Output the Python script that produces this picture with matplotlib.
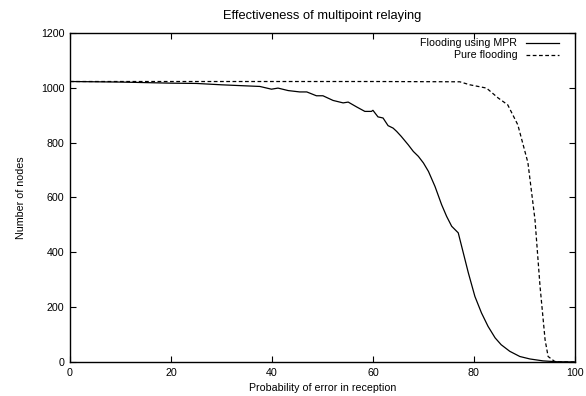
import matplotlib
matplotlib.use('Agg')
import matplotlib.pyplot as plt

# data
mpr_x = [0, 5, 10, 15, 20, 25, 30, 35, 37.6, 39.9, 41.2, 43.2, 45.5, 46.9, 48.8, 50.1, 52.1,
         54.1, 55.1, 56.8, 58.4, 59.7, 60, 61, 62, 63, 64, 64.7, 65.6, 67, 68, 69, 70, 71,
         72.3, 73.6, 74.6, 75.6, 76.9, 77.9, 78.9, 80.2, 81.5, 82.8, 84.2, 85.4, 87.1, 89.1,
         91.1, 93.7, 96.3, 100]
mpr_y = [1023, 1022, 1021, 1019, 1017, 1016, 1011, 1007, 1005, 995, 999, 990, 985, 985, 971,
         971, 954, 945, 948, 930, 914, 914, 918, 894, 890, 862, 853, 841, 823, 792, 768, 750,
         726, 695, 640, 574, 531, 495, 471, 398, 325, 239, 179, 130, 88, 63, 39, 20, 11, 4, 1, 0]

pure_x = [0, 20, 40, 60, 77.2, 79.2, 82.5, 84.8, 86.7, 88.7, 90.7, 92.1, 93.1, 94.1, 94.7,
          96, 97, 100]
pure_y = [1023, 1023, 1023, 1023, 1022, 1011, 999, 963, 938, 865, 727, 519, 276, 81, 20,
          2, 0, 0]

plt.rcParams['font.family'] = ['Liberation Sans', 'DejaVu Sans']
plt.rcParams['font.size'] = 7.7

fig = plt.figure(figsize=(5.86, 3.96), dpi=100)
ax = fig.add_axes([0.1195, 0.0859, 0.8615, 0.8308])

ax.plot(mpr_x, mpr_y, color='black', lw=0.9, label='Flooding using MPR')
ax.plot(pure_x, pure_y, color='black', lw=0.9, linestyle=(0, (3, 2)), label='Pure flooding')

ax.set_xlim(0, 100)
ax.set_ylim(0, 1200)
ax.set_xticks([0, 20, 40, 60, 80, 100])
ax.set_yticks([0, 200, 400, 600, 800, 1000, 1200])
ax.tick_params(direction='in', top=True, right=True, length=4, width=0.8, pad=4)
for s in ax.spines.values():
    s.set_linewidth(1.0)

ax.set_title('Effectiveness of multipoint relaying', pad=10)
ax.set_xlabel('Probability of error in reception', labelpad=4)
ax.set_ylabel('Number of nodes', labelpad=11)

ax.legend(loc='upper right', bbox_to_anchor=(0.98, 1.0), frameon=False, markerfirst=False,
          handlelength=3.1, handletextpad=0.85, labelspacing=0.2, borderaxespad=0.3,
          borderpad=0.2)

plt.savefig('out.png', dpi=100)
